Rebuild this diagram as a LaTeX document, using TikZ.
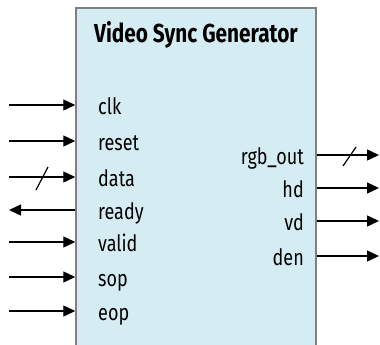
\documentclass[tikz,border=0pt]{standalone}
\usepackage{fontspec}
\setmainfont{Fira Sans}[FakeStretch=0.80]
\usetikzlibrary{arrows.meta}
\definecolor{boxfill}{HTML}{D5ECF3}
\definecolor{boxline}{HTML}{7F7F7F}
\tikzset{
  sig/.style={line width=1.4pt,-{Triangle[length=12pt,width=11pt]}},
  lbl/.style={font=\fontsize{22.5}{26}\selectfont, inner sep=0pt},
  busmark/.style={line width=1.2pt},
}
\begin{document}
\begin{tikzpicture}[x=1pt,y=-1pt]
\useasboundingbox (0,0) rectangle (380,345);
\node[draw=boxline, line width=1.5pt, fill=boxfill, minimum width=240pt, minimum height=352pt, inner sep=0pt] (box) at (196,184) {};
\node[anchor=base, inner sep=0pt, font=\fontsize{26}{30}\selectfont\bfseries] (title) at (196,43) {Video Sync Generator};
% left ports
\foreach \n/\y in {clk/105,reset/141,data/177,valid/242,sop/277,eop/311}{
  \coordinate (\n in) at (9,\y);
  \draw[sig] (\n in) -- (\n in -| box.west);
  \node[lbl, anchor=base west] (\n) at (98,\y+9) {\n};
}
\coordinate (readyout) at (9,210);
\draw[sig] (readyout -| box.west) -- (readyout);
\node[lbl, anchor=base west] (ready) at (98,219) {ready};
\draw[busmark] (36,190) -- (48,167);
% right ports
\foreach \n/\t/\y in {rgbout/rgb\_out/155,hd/hd/188,vd/vd/221,den/den/256}{
  \coordinate (\n out) at (379,\y);
  \draw[sig] (\n out -| box.east) -- (\n out);
  \node[lbl, anchor=base east] (\n) at (304,\y+9) {\t};
}
\draw[busmark] (343,166) -- (356,147);
\end{tikzpicture}
\end{document}
